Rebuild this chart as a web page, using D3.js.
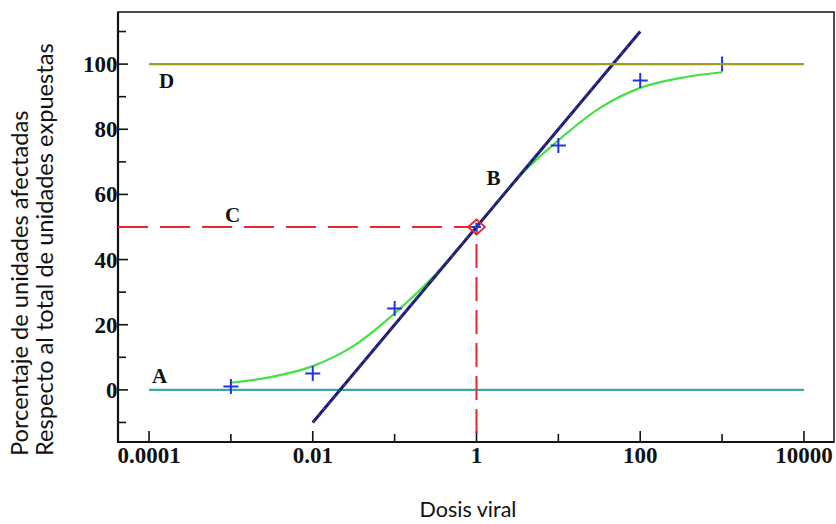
<!DOCTYPE html>
<html>
<head>
<meta charset="utf-8">
<script src="https://cdn.jsdelivr.net/npm/d3@7"></script>
<style>
  html, body { margin: 0; padding: 0; background: #fff; }
  svg { display: block; }
</style>
</head>
<body>
<svg id="chart" width="836" height="524"></svg>
<script>
// ---------- data ----------
const xMajorTicks = [1e-4, 1e-2, 1, 100, 1e4];
const xMajorLabels = ["0.0001", "0.01", "1", "100", "10000"];
const xMinorTicks = [1e-3, 1e-1, 10, 1000];
const yMajorTicks = [0, 20, 40, 60, 80, 100];
const yMajorLabels = ["0", "20", "40", "60", "80", "100"];
const yMinorTicks = [-10, 10, 30, 50, 70, 90, 110];

// observed points (blue +)
const obsDose = [0.001, 0.01, 0.1, 1, 10, 100, 1000];
const obsPct  = [1, 5, 25, 50, 75, 95, 100];

// fitted sigmoid curve (green)
const fitDose = [0.001, 0.00316, 0.01, 0.0316, 0.1, 0.316, 1, 3.16, 10, 31.6, 100, 316, 1000];
const fitPct  = [2.2, 4.0, 7.3, 13.5, 23.5, 35.5, 50, 65, 76.6, 86.4, 92.7, 95.8, 97.5];

// tangent line through ED50 (navy)
const tanDose = [0.01, 100];
const tanPct  = [-10, 110];

// reference levels
const levelA = 0, levelD = 100, levelC = 50, ed50 = 1;
const levelDose = [1e-4, 1e4];

// annotation letters
const letters = ["A", "B", "C", "D"];
const letterDose = [1.09e-4, 1.324, 8.49e-4, 1.324e-4];
const letterPct  = [2.1, 62.8, 51.5, 92.8];

const xTitle = "Dosis viral";
const yTitle1 = "Porcentaje de unidades afectadas";
const yTitle2 = "Respecto al total de unidades expuestas";

// ---------- layout ----------
const L = 118, R = 834, T = 12, B = 442;
const svg = d3.select("#chart");

const x = d3.scaleLog().domain([Math.pow(10, -4.379), Math.pow(10, 4.367)]).range([L, R]);
const y = d3.scaleLinear().domain([-16, 116]).range([B, T]);

const serif = "'Liberation Serif', 'Times New Roman', serif";
const sans = "Lato, 'Open Sans', sans-serif";

// frame
svg.append("rect").attr("x", L).attr("y", T).attr("width", R - L).attr("height", B - T)
  .attr("fill", "none").attr("stroke", "#222").attr("stroke-width", 1.6);
svg.append("line").attr("x1", L).attr("x2", L).attr("y1", T).attr("y2", B + 1)
  .attr("stroke", "#111").attr("stroke-width", 2.2);
svg.append("line").attr("x1", L - 1).attr("x2", R).attr("y1", B).attr("y2", B)
  .attr("stroke", "#111").attr("stroke-width", 2.2);

// ticks (inward)
const g = svg.append("g");
g.selectAll(".xmaj").data(xMajorTicks).enter().append("line")
  .attr("x1", d => x(d)).attr("x2", d => x(d)).attr("y1", B).attr("y2", B - 11)
  .attr("stroke", "#111").attr("stroke-width", 1.6);
g.selectAll(".xmin").data(xMinorTicks).enter().append("line")
  .attr("x1", d => x(d)).attr("x2", d => x(d)).attr("y1", B).attr("y2", B - 8)
  .attr("stroke", "#111").attr("stroke-width", 1.6);
g.selectAll(".ymaj").data(yMajorTicks).enter().append("line")
  .attr("x1", L).attr("x2", L + 10).attr("y1", d => y(d)).attr("y2", d => y(d))
  .attr("stroke", "#111").attr("stroke-width", 1.6);
g.selectAll(".ymin").data(yMinorTicks).enter().append("line")
  .attr("x1", L).attr("x2", L + 8).attr("y1", d => y(d)).attr("y2", d => y(d))
  .attr("stroke", "#111").attr("stroke-width", 1.6);

// tick labels
g.selectAll(".xl").data(xMajorTicks).enter().append("text")
  .attr("x", d => x(d)).attr("y", 463)
  .attr("text-anchor", "middle")
  .attr("font-family", serif).attr("font-weight", "bold").attr("font-size", 23)
  .attr("fill", "#111")
  .text((d, i) => xMajorLabels[i]);
g.selectAll(".yl").data(yMajorTicks).enter().append("text")
  .attr("x", L - 0.5).attr("y", d => y(d)).attr("dy", "0.35em")
  .attr("text-anchor", "end")
  .attr("font-family", serif).attr("font-weight", "bold").attr("font-size", 23)
  .attr("fill", "#111")
  .text((d, i) => yMajorLabels[i]);

// A level (teal)
svg.append("line")
  .attr("x1", x(levelDose[0])).attr("x2", x(levelDose[1]))
  .attr("y1", y(levelA)).attr("y2", y(levelA))
  .attr("stroke", "#3aa6a8").attr("stroke-width", 2.2);

// C dashed lines (red)
svg.append("line")
  .attr("x1", L).attr("x2", x(ed50))
  .attr("y1", y(levelC)).attr("y2", y(levelC))
  .attr("stroke", "#e8262b").attr("stroke-width", 2)
  .attr("stroke-dasharray", "30,12");
svg.append("line")
  .attr("x1", x(ed50)).attr("x2", x(ed50))
  .attr("y1", y(levelC)).attr("y2", B)
  .attr("stroke", "#e8262b").attr("stroke-width", 2)
  .attr("stroke-dasharray", "24,9").attr("stroke-dashoffset", 16);

// fitted curve (green)
const fitData = fitDose.map((d, i) => [d, fitPct[i]]);
svg.append("path").datum(fitData)
  .attr("d", d3.line().x(d => x(d[0])).y(d => y(d[1])).curve(d3.curveMonotoneX))
  .attr("fill", "none").attr("stroke", "#44e044").attr("stroke-width", 2.2);

// tangent line (navy)
const tanData = tanDose.map((d, i) => [d, tanPct[i]]);
const tanLine = d3.line().x(d => x(d[0])).y(d => y(d[1]));
svg.append("path").datum(tanData).attr("d", tanLine)
  .attr("fill", "none").attr("stroke", "#1c1c72").attr("stroke-width", 3);
svg.append("path").datum(tanData).attr("d", tanLine)
  .attr("fill", "none").attr("stroke", "#4a4ab0").attr("stroke-width", 1)
  .attr("stroke-dasharray", "3,5");

// ED50 diamond (red)
const cx = x(ed50), cy = y(levelC);
svg.append("path")
  .attr("d", `M${cx},${cy - 7.5}L${cx + 8.5},${cy}L${cx},${cy + 7.5}L${cx - 8.5},${cy}Z`)
  .attr("fill", "none").attr("stroke", "#e8262b").attr("stroke-width", 1.8);

// observed plus markers
const obsData = obsDose.map((d, i) => [d, obsPct[i]]);
const plus = svg.append("g");
obsData.forEach((d, i) => {
  const px = x(d[0]), py = y(d[1]);
  const s = (d[0] === ed50) ? 4.5 : 7.5;
  plus.append("path")
    .attr("d", `M${px - s},${py}H${px + s}M${px},${py - s}V${py + s}`)
    .attr("stroke", "#2233e0").attr("stroke-width", 2).attr("fill", "none");
});

// D level (olive) on top
svg.append("line")
  .attr("x1", x(levelDose[0])).attr("x2", x(levelDose[1]))
  .attr("y1", y(levelD)).attr("y2", y(levelD))
  .attr("stroke", "#9e9e1e").attr("stroke-width", 2.2);

// letters
svg.selectAll(".let").data(letters).enter().append("text")
  .attr("x", (d, i) => x(letterDose[i])).attr("y", (d, i) => y(letterPct[i]))
  .attr("font-family", serif).attr("font-weight", "bold").attr("font-size", 21)
  .attr("fill", "#111")
  .text(d => d);

// axis titles (fit to measured lengths)
function fitText(sel, target) {
  const w = sel.node().getComputedTextLength();
  const fs = parseFloat(sel.attr("font-size"));
  sel.attr("font-size", fs * target / w);
}
const xt = svg.append("text")
  .attr("x", 468).attr("y", 517).attr("text-anchor", "middle")
  .attr("font-family", sans).attr("font-size", 20).attr("fill", "#111")
  .text(xTitle);
fitText(xt, 97);

const yt2 = svg.append("text")
  .attr("transform", "translate(53,456) rotate(-90)")
  .attr("font-family", sans).attr("font-size", 20).attr("fill", "#111")
  .text(yTitle2);
fitText(yt2, 413);
const fsY = yt2.attr("font-size");
svg.append("text")
  .attr("transform", "translate(27.5,456) rotate(-90)")
  .attr("font-family", sans).attr("font-size", fsY).attr("fill", "#111")
  .text(yTitle1);
</script>
</body>
</html>
